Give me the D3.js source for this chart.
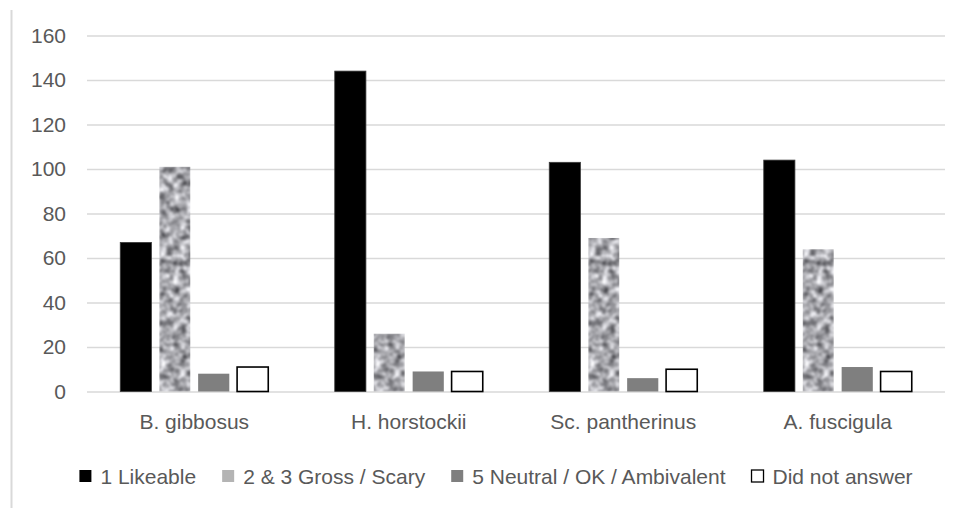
<!DOCTYPE html>
<html>
<head>
<meta charset="utf-8">
<script src="https://cdn.jsdelivr.net/npm/d3@7"></script>
<style>
  html, body { margin: 0; padding: 0; background: #fff; }
  svg { display: block; font-family: "Liberation Sans", Arial, sans-serif; }
</style>
</head>
<body>
<svg id="chart" width="962" height="508"></svg>
<script>
// Survey responses per species
const categories = ["B. gibbosus", "H. horstockii", "Sc. pantherinus", "A. fuscigula"];
const seriesNames = ["1 Likeable", "2 & 3 Gross / Scary", "5 Neutral / OK / Ambivalent", "Did not answer"];
const likeable = [67, 144, 103, 104];
const grossScary = [101, 26, 69, 64];
const neutral = [8, 9, 6, 11];
const noAnswer = [11, 9, 10, 9];
const yTicks = [0, 20, 40, 60, 80, 100, 120, 140, 160];

const seriesValues = [likeable, grossScary, neutral, noAnswer];
const seriesStyle = [
  { fill: "#000000", stroke: "#3a3a3a", sw: 0.8, filter: null },
  { fill: "#a8a8a8", stroke: "none", sw: 0, filter: "url(#mottle)" },
  { fill: "#7f7f7f", stroke: "none", sw: 0, filter: null },
  { fill: "#ffffff", stroke: "#000000", sw: 1.6, filter: null }
];

const svg = d3.select("#chart");
const textColor = "#595959";
const gridColor = "#d9d9d9";

// Soft grey mottled texture for the "Gross / Scary" bars
const defs = svg.append("defs");
const f = defs.append("filter").attr("id", "mottle")
  .attr("x", 0).attr("y", 0).attr("width", 1).attr("height", 1)
  .attr("filterUnits", "objectBoundingBox")
  .attr("color-interpolation-filters", "sRGB");
f.append("feTurbulence").attr("type", "fractalNoise")
  .attr("baseFrequency", 0.15).attr("numOctaves", 2).attr("seed", 7).attr("result", "n");
f.append("feColorMatrix").attr("in", "n").attr("type", "matrix")
  .attr("values", "1.15 0 0 0 0.08  1.15 0 0 0 0.08  1.15 0 0 0 0.1  0 0 0 0 1")
  .attr("result", "g");
f.append("feGaussianBlur").attr("in", "g").attr("stdDeviation", 0.9).attr("result", "gb");
f.append("feComposite").attr("in", "gb").attr("in2", "SourceGraphic").attr("operator", "in");

// Chart frame edge on the left
svg.append("line")
  .attr("x1", 11.5).attr("x2", 11.5).attr("y1", 10).attr("y2", 508)
  .attr("stroke", gridColor).attr("stroke-width", 2);

const plot = { left: 87, right: 945, top: 35.5, bottom: 391.5 };

const y = d3.scaleLinear().domain([0, 160]).range([plot.bottom, plot.top]);
const x0 = d3.scaleBand().domain(categories).range([plot.left, plot.right])
  .paddingInner(0.31).paddingOuter(0.155);
const x1 = d3.scaleBand().domain(d3.range(seriesNames.length)).range([0, x0.bandwidth()])
  .paddingInner(0.2).paddingOuter(0);

// Gridlines and y labels
const yAxis = d3.axisLeft(y).tickValues(yTicks).tickSize(-(plot.right - plot.left)).tickPadding(21);
const gy = svg.append("g").attr("transform", `translate(${plot.left},0)`).call(yAxis);
gy.select(".domain").remove();
gy.selectAll(".tick line").attr("stroke", gridColor).attr("stroke-width", 1.5);
gy.selectAll(".tick text").attr("fill", textColor).attr("font-size", 21)
  .attr("font-family", "'Liberation Sans', Arial, sans-serif");

// Bars
const groups = svg.append("g").selectAll("g")
  .data(categories)
  .join("g")
  .attr("transform", d => `translate(${x0(d)},0)`);

groups.selectAll("rect")
  .data((c, i) => seriesValues.map((vals, s) => ({ s, v: vals[i] })))
  .join("rect")
  .attr("x", d => x1(d.s))
  .attr("width", x1.bandwidth())
  .attr("y", d => y(d.v))
  .attr("height", d => y(0) - y(d.v))
  .attr("fill", d => seriesStyle[d.s].fill)
  .attr("stroke", d => seriesStyle[d.s].stroke)
  .attr("stroke-width", d => seriesStyle[d.s].sw)
  .attr("filter", d => seriesStyle[d.s].filter);

// Category labels
const xAxis = d3.axisBottom(x0).tickSize(0).tickPadding(23);
const gx = svg.append("g").attr("transform", `translate(0,${plot.bottom})`).call(xAxis);
gx.select(".domain").remove();
gx.selectAll(".tick text").attr("fill", textColor).attr("font-size", 21)
  .attr("font-family", "'Liberation Sans', Arial, sans-serif");

// Legend
const legend = svg.append("g");
const sq = 12, sqGap = 9, itemGap = 26, legendY = 476, legendCenter = 496;
const items = legend.selectAll("g").data(seriesNames).join("g");
items.append("rect")
  .attr("width", sq).attr("height", sq)
  .attr("y", legendY - sq / 2)
  .attr("fill", (d, i) => i === 1 ? "#b4b4b4" : seriesStyle[i].fill)
  .attr("stroke", (d, i) => i === 3 ? "#000" : "none")
  .attr("stroke-width", 1.3);
items.append("text")
  .attr("x", sq + sqGap)
  .attr("y", legendY)
  .attr("dy", "0.36em")
  .attr("fill", textColor)
  .attr("font-size", 21)
  .text(d => d);

let widths = [];
items.each(function () { widths.push(sq + sqGap + this.querySelector("text").getComputedTextLength()); });
const total = d3.sum(widths) + itemGap * (widths.length - 1);
let cx = legendCenter - total / 2;
items.attr("transform", (d, i) => {
  const t = `translate(${cx},0)`;
  cx += widths[i] + itemGap;
  return t;
});
</script>
</body>
</html>
